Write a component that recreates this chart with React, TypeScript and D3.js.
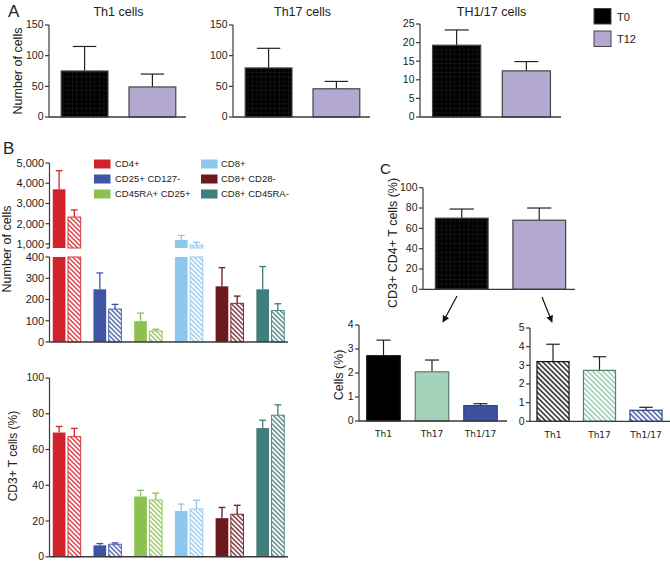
import React from "react";
import * as d3 from "d3";

const FONT = "'Liberation Sans', Arial, Helvetica, sans-serif";

// ---------- Panel A ----------
const aTitles = ["Th1 cells", "Th17 cells", "TH1/17 cells"];
const aGroups = ["T0", "T12"];
const aMeans = [[75, 49], [80, 46], [19.3, 12.4]];
const aSems = [[40, 21], [32, 12], [4.1, 2.5]];
const aYMax = [150, 150, 25];
const aYTicks = [[0, 50, 100, 150], [0, 50, 100, 150], [0, 5, 10, 15, 20, 25]];
const groupColors = ["#000000", "#B3A8D0"];

// ---------- Panel B ----------
const bCategories = ["CD4+", "CD25+ CD127-", "CD45RA+ CD25+", "CD8+", "CD8+ CD28-", "CD8+ CD45RA-"];
const bColors = ["#D3232A", "#3E55A5", "#8CC152", "#8EC7EE", "#6D1A1F", "#407D7B"];
const bCountT0 = [3700, 248, 98, 1200, 262, 248];
const bCountT0Err = [920, 77, 38, 220, 88, 107];
const bCountT12 = [2330, 155, 52, 940, 182, 148];
const bCountT12Err = [350, 22, 8, 140, 34, 32];
const bUpperTicks = [1000, 2000, 3000, 4000, 5000];
const bLowerTicks = [0, 100, 200, 300, 400];
const bPctT0 = [69.5, 6.4, 33.7, 25.6, 21.6, 72];
const bPctT0Err = [3.4, 1.0, 3.5, 3.9, 6.0, 4.4];
const bPctT12 = [67.2, 7.0, 31.8, 26.8, 23.8, 79.2];
const bPctT12Err = [4.6, 0.8, 3.8, 4.8, 5.0, 5.8];
const bPctTicks = [0, 20, 40, 60, 80, 100];

// ---------- Panel C ----------
const cMeans = [70, 68];
const cSems = [9, 12];
const cTicks = [0, 20, 40, 60, 80, 100];
const cSubsets = ["Th1", "Th17", "Th1/17"];
const cT0Means = [2.72, 2.05, 0.64];
const cT0Sems = [0.65, 0.49, 0.08];
const cT12Means = [3.2, 2.73, 0.59];
const cT12Sems = [0.93, 0.73, 0.16];
const cLeftTicks = [0, 1, 2, 3, 4];
const cRightTicks = [0, 1, 2, 3, 4, 5];
const cSubsetColors = ["#000000", "#A3D3BB", "#3C51A0"];
const cSubsetStroke = ["#111111", "#5E7D6E", "#2E4290"];
const cHatchColors = ["#111111", "#8CC4A8", "#3C51A0"];

const AX = "#3a3a3a";

function YAxis({ x, scale, ticks, fmt = (d: number) => String(d), fs = 10.5, top, bottom }: any) {
  const y0 = bottom ?? scale(ticks[0]);
  const y1 = top ?? scale(ticks[ticks.length - 1]);
  return (
    <g>
      <line x1={x} x2={x} y1={y0} y2={y1} stroke={AX} strokeWidth={1.2} />
      {ticks.map((t: number) => (
        <g key={t}>
          <line x1={x - 4} x2={x} y1={scale(t)} y2={scale(t)} stroke={AX} strokeWidth={1.2} />
          <text x={x - 5.5} y={scale(t)} dy="0.33em" textAnchor="end" fontSize={fs} fill="#222">
            {fmt(t)}
          </text>
        </g>
      ))}
    </g>
  );
}

function ErrBar({ cx, yTop, yBar, cap, color, sw = 1.2 }: any) {
  return (
    <g stroke={color} strokeWidth={sw}>
      <line x1={cx} x2={cx} y1={yBar} y2={yTop} />
      <line x1={cx - cap / 2} x2={cx + cap / 2} y1={yTop} y2={yTop} />
    </g>
  );
}

export default function App() {
  const W = 670, H = 561;

  // ----- Panel A -----
  const aAxisX = [49, 233, 420];
  const aAxisEnd = [186, 370, 561];
  const aRangeLen = [139, 139, 143];
  const aYTop = [25, 25, 24];
  const aBottom = 117;

  // ----- Panel B -----
  const bx = d3.scaleBand<string>().domain(bCategories).range([49, 288]).paddingInner(0.29).paddingOuter(0.08);
  const bsub = d3.scaleBand<string>().domain(aGroups).range([0, bx.bandwidth()]).paddingInner(0.1);
  const yUpper = d3.scaleLinear().domain([800, 5000]).range([248, 163]);
  const yLower = d3.scaleLinear().domain([0, 400]).range([342, 257]);
  const yPct = d3.scaleLinear().domain([0, 100]).range([556.8, 378]);

  // ----- Panel C -----
  const cx = d3.scaleBand<string>().domain(aGroups).range([423, 578]).paddingInner(0.32).paddingOuter(0.16);
  const cy = d3.scaleLinear().domain([0, 100]).range([289.3, 187.7]);
  const clx = d3.scaleBand<string>().domain(cSubsets).range([359, 505]).paddingInner(0.31).paddingOuter(0.16);
  const cly = d3.scaleLinear().domain([0, 4]).range([421, 325]);
  const crx = d3.scaleBand<string>().domain(cSubsets).range([530, 669]).paddingInner(0.31).paddingOuter(0.15);
  const cry = d3.scaleLinear().domain([0, 5]).range([421.3, 328]);

  const fmtComma = d3.format(",");

  const hatchPattern = (id: string, color: string, sw = 1.5, sp = 3.4) => (
    <pattern key={id} id={id} patternUnits="userSpaceOnUse" width={sp} height={sp} patternTransform="rotate(-45)">
      <rect width={sp} height={sp} fill="#fff" />
      <line x1={sp / 2} x2={sp / 2} y1={-1} y2={sp + 1} stroke={color} strokeWidth={sw} />
    </pattern>
  );

  // Panel B top bars
  const bTopBars: any[] = [];
  bCategories.forEach((cat, i) => {
    const vals = [bCountT0[i], bCountT12[i]];
    const errs = [bCountT0Err[i], bCountT12Err[i]];
    aGroups.forEach((g, j) => {
      const x = (bx(cat) as number) + (bsub(g) as number);
      const w = bsub.bandwidth();
      const v = vals[j];
      const fill = j === 0 ? bColors[i] : `url(#hatchB${i})`;
      const stroke = j === 0 ? "none" : bColors[i];
      const top = v + errs[j];
      const lowerTop = yLower(Math.min(v, 400));
      bTopBars.push(
        <g key={cat + g}>
          {v > 800 && (
            <ErrBar cx={x + w / 2} yTop={yUpper(top)} yBar={yUpper(v)} cap={w * 0.5} color={bColors[i]} sw={1.3} />
          )}
          {v <= 800 && (
            <ErrBar cx={x + w / 2} yTop={yLower(top)} yBar={lowerTop} cap={w * 0.5} color={bColors[i]} sw={1.3} />
          )}
          <rect x={x + 0.5} y={lowerTop} width={w - 1} height={yLower(0) - lowerTop} fill={fill} stroke={stroke} strokeWidth={1} opacity={j === 1 ? 0.9 : 1} />
          {v > 800 && (
            <rect x={x + 0.5} y={yUpper(v)} width={w - 1} height={yUpper(800) - yUpper(v)} fill={fill} stroke={stroke} strokeWidth={1} opacity={j === 1 ? 0.9 : 1} />
          )}
        </g>
      );
    });
  });

  // Panel B bottom bars
  const bBotBars: any[] = [];
  bCategories.forEach((cat, i) => {
    const vals = [bPctT0[i], bPctT12[i]];
    const errs = [bPctT0Err[i], bPctT12Err[i]];
    aGroups.forEach((g, j) => {
      const x = (bx(cat) as number) + (bsub(g) as number);
      const w = bsub.bandwidth();
      const v = vals[j];
      const fill = j === 0 ? bColors[i] : `url(#hatchB${i})`;
      const stroke = j === 0 ? "none" : bColors[i];
      bBotBars.push(
        <g key={cat + g}>
          <ErrBar cx={x + w / 2} yTop={yPct(v + errs[j])} yBar={yPct(v)} cap={w * 0.5} color={bColors[i]} sw={1.3} />
          <rect x={x + 0.5} y={yPct(v)} width={w - 1} height={yPct(0) - yPct(v)} fill={fill} stroke={stroke} strokeWidth={1} opacity={j === 1 ? 0.9 : 1} />
        </g>
      );
    });
  });

  return (
    <svg width={W} height={H} style={{ position: "absolute", left: 0, top: 0, background: "#fff" }} fontFamily={FONT}>
      <defs>
        <pattern id="blackgrid" patternUnits="userSpaceOnUse" width={4.5} height={4.5}>
          <rect width={4.5} height={4.5} fill="#000" />
          <path d="M0 0.25 H4.5 M0.25 0 V4.5" stroke="#262626" strokeWidth={0.5} />
        </pattern>
        {bColors.map((c, i) => hatchPattern(`hatchB${i}`, c, 1.4, 3.3))}
        {cHatchColors.map((c, i) => hatchPattern(`hatchC${i}`, c, 1.4, 3.6))}
        <marker id="arrow" viewBox="0 0 10 10" refX={9} refY={5} markerWidth={7} markerHeight={7} orient="auto-start-reverse" markerUnits="userSpaceOnUse">
          <path d="M0,0 L10,5 L0,10 z" fill="#111" />
        </marker>
      </defs>

      {/* ================= Panel A ================= */}
      <text x={8} y={17} fontSize={17} fill="#222">A</text>
      <text transform="translate(22,71) rotate(-90)" textAnchor="middle" fontSize={12.5} fill="#222">Number of cells</text>
      {aTitles.map((title, k) => {
        const x = d3.scaleBand<string>().domain(aGroups).range([aAxisX[k], aAxisX[k] + aRangeLen[k]]).paddingInner(0.31).paddingOuter(0.18);
        const y = d3.scaleLinear().domain([0, aYMax[k]]).range([aBottom, aYTop[k]]);
        return (
          <g key={title}>
            <text x={(aAxisX[k] + aAxisEnd[k]) / 2 + 1} y={16} textAnchor="middle" fontSize={12.5} fill="#222">{title}</text>
            {aGroups.map((g, j) => {
              const v = aMeans[k][j];
              const bx0 = x(g) as number;
              const w = x.bandwidth();
              return (
                <g key={g}>
                  <ErrBar cx={bx0 + w / 2} yTop={y(v + aSems[k][j])} yBar={y(v)} cap={w * 0.5} color="#222" sw={1.2} />
                  <rect x={bx0} y={y(v)} width={w} height={y(0) - y(v)} fill={j === 0 ? "url(#blackgrid)" : groupColors[1]} stroke="#444" strokeWidth={1.2} />
                </g>
              );
            })}
            <YAxis x={aAxisX[k]} scale={y} ticks={aYTicks[k]} fs={10.5} />
            <line x1={aAxisX[k]} x2={aAxisEnd[k]} y1={aBottom} y2={aBottom} stroke={AX} strokeWidth={1.3} />
          </g>
        );
      })}
      {/* Legend A */}
      {aGroups.map((g, j) => (
        <g key={g}>
          <rect x={594} y={j === 0 ? 8.5 : 31} width={17} height={15.5} fill={j === 0 ? "#000" : groupColors[1]} stroke="#444" strokeWidth={1} />
          <text x={617} y={j === 0 ? 20.5 : 43} fontSize={11} fill="#222">{g}</text>
        </g>
      ))}

      {/* ================= Panel B (counts) ================= */}
      <text x={3} y={154} fontSize={17} fill="#222">B</text>
      <text transform="translate(11,249) rotate(-90)" textAnchor="middle" fontSize={12.5} fill="#222">Number of cells</text>
      {bTopBars}
      {/* upper axis segment */}
      <line x1={49.5} x2={49.5} y1={yUpper(5000)} y2={248} stroke={AX} strokeWidth={1.2} />
      <line x1={46.5} x2={49.5} y1={248} y2={248} stroke={AX} strokeWidth={1.2} />
      {bUpperTicks.map((t) => (
        <g key={t}>
          <line x1={45.5} x2={49.5} y1={yUpper(t)} y2={yUpper(t)} stroke={AX} strokeWidth={1.2} />
          <text x={44} y={yUpper(t)} dy="0.35em" textAnchor="end" fontSize={11} fill="#222">{fmtComma(t)}</text>
        </g>
      ))}
      {/* lower axis segment */}
      <line x1={49.5} x2={49.5} y1={257} y2={342} stroke={AX} strokeWidth={1.2} />
      {bLowerTicks.map((t) => (
        <g key={t}>
          <line x1={45.5} x2={49.5} y1={yLower(t)} y2={yLower(t)} stroke={AX} strokeWidth={1.2} />
          <text x={44} y={yLower(t)} dy="0.35em" textAnchor="end" fontSize={11} fill="#222">{t}</text>
        </g>
      ))}
      <line x1={49.5} x2={288} y1={342} y2={342} stroke={AX} strokeWidth={1.5} />
      {/* Legend B */}
      {bCategories.map((cat, i) => {
        const col = i < 3 ? 0 : 1;
        const row = i % 3;
        const cyy = 164 + row * 15;
        const sx = col === 0 ? 94 : 201;
        const tx = col === 0 ? 115 : 221;
        return (
          <g key={cat}>
            <rect x={sx} y={cyy - 4.5} width={16.5} height={9} fill={bColors[i]} />
            <text x={tx} y={cyy} dy="0.35em" fontSize={9.5} fill="#222">{cat}</text>
          </g>
        );
      })}

      {/* ================= Panel B (percent) ================= */}
      <text transform="translate(17,456) rotate(-90)" textAnchor="middle" fontSize={12} fill="#222">CD3+ T cells (%)</text>
      {bBotBars}
      <YAxis x={49.5} scale={yPct} ticks={bPctTicks} fs={10.5} />
      <line x1={49.5} x2={288} y1={yPct(0)} y2={yPct(0)} stroke={AX} strokeWidth={1.5} />

      {/* ================= Panel C top ================= */}
      <text x={380} y={174} fontSize={15} fill="#222">C</text>
      <text transform="translate(396.5,243) rotate(-90)" textAnchor="middle" fontSize={12.5} fill="#222">CD3+ CD4+ T cells (%)</text>
      {aGroups.map((g, j) => {
        const x0 = cx(g) as number;
        const w = cx.bandwidth();
        const v = cMeans[j];
        return (
          <g key={g}>
            <ErrBar cx={x0 + w / 2} yTop={cy(v + cSems[j])} yBar={cy(v)} cap={w * 0.46} color="#222" sw={1.2} />
            <rect x={x0} y={cy(v)} width={w} height={cy(0) - cy(v)} fill={j === 0 ? "url(#blackgrid)" : groupColors[1]} stroke="#444" strokeWidth={1.2} />
          </g>
        );
      })}
      <YAxis x={423} scale={cy} ticks={cTicks} fs={10.5} />
      <line x1={423} x2={575} y1={cy(0)} y2={cy(0)} stroke={AX} strokeWidth={1.3} />

      {/* arrows */}
      <line x1={457} y1={296} x2={443} y2={322} stroke="#111" strokeWidth={1.2} markerEnd="url(#arrow)" />
      <line x1={542} y1={297} x2={552} y2={322} stroke="#111" strokeWidth={1.2} markerEnd="url(#arrow)" />

      {/* ================= Panel C bottom-left ================= */}
      <text transform="translate(343,375) rotate(-90)" textAnchor="middle" fontSize={12.5} fill="#222">Cells (%)</text>
      {cSubsets.map((s, i) => {
        const x0 = clx(s) as number;
        const w = clx.bandwidth();
        const v = cT0Means[i];
        return (
          <g key={s}>
            <ErrBar cx={x0 + w / 2} yTop={cly(v + cT0Sems[i])} yBar={cly(v)} cap={w * 0.42} color="#222" sw={1.2} />
            <rect x={x0} y={cly(v)} width={w} height={cly(0) - cly(v)} fill={cSubsetColors[i]} stroke={cSubsetStroke[i]} strokeWidth={1.2} />
            <text x={x0 + w / 2} y={437} textAnchor="middle" fontSize={9} fontFamily="'DejaVu Sans', Verdana, sans-serif" fill="#222">{s}</text>
          </g>
        );
      })}
      <YAxis x={359} scale={cly} ticks={cLeftTicks} fs={10.5} />
      <line x1={359} x2={507} y1={cly(0)} y2={cly(0)} stroke={AX} strokeWidth={1.3} />

      {/* ================= Panel C bottom-right ================= */}
      {cSubsets.map((s, i) => {
        const x0 = crx(s) as number;
        const w = crx.bandwidth();
        const v = cT12Means[i];
        return (
          <g key={s}>
            <ErrBar cx={x0 + w / 2} yTop={cry(v + cT12Sems[i])} yBar={cry(v)} cap={w * 0.42} color="#222" sw={1.2} />
            <rect x={x0} y={cry(v)} width={w} height={cry(0) - cry(v)} fill={`url(#hatchC${i})`} stroke={cSubsetStroke[i]} strokeWidth={1.2} />
            <text x={x0 + w / 2} y={438} textAnchor="middle" fontSize={9} fontFamily="'DejaVu Sans', Verdana, sans-serif" fill="#222">{s}</text>
          </g>
        );
      })}
      <YAxis x={530} scale={cry} ticks={cRightTicks} fs={10.5} />
      <line x1={530} x2={670} y1={cry(0)} y2={cry(0)} stroke={AX} strokeWidth={1.3} />
    </svg>
  );
}
